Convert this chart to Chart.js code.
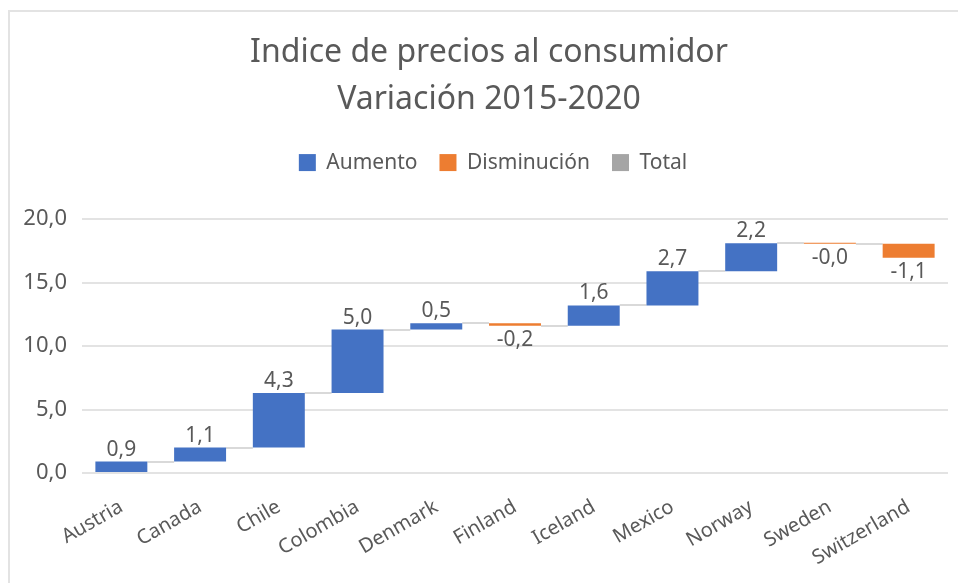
<!DOCTYPE html>
<html>
<head>
<meta charset="utf-8">
<script src="https://cdn.jsdelivr.net/npm/chart.js@4.4.1/dist/chart.umd.min.js"></script>
<style>
  html, body { margin: 0; padding: 0; background: #fff; }
  #wrap { position: relative; width: 958px; height: 583px; overflow: hidden; }
  #frame { position: absolute; left: 8px; top: 10px; width: 970px; height: 600px; border: 2px solid #e3e3e3; }
  canvas { position: absolute; left: 0; top: 0; }
</style>
</head>
<body>
<div id="wrap">
  <div id="frame"></div>
  <canvas id="chart" width="958" height="583"></canvas>
</div>
<script>
// ── Data ──
const categories = ["Austria", "Canada", "Chile", "Colombia", "Denmark", "Finland", "Iceland", "Mexico", "Norway", "Sweden", "Switzerland"];
const changes    = [0.9, 1.1, 4.3, 5.0, 0.5, -0.2, 1.6, 2.7, 2.2, -0.04, -1.1];
const yTicks     = [0, 5, 10, 15, 20];
const titleLines = ["Indice de precios al consumidor", "Variación 2015-2020"];
const seriesNames = ["Aumento", "Disminución", "Total"];

// running totals -> floating bars
const starts = [], ends = [];
let run = 0;
changes.forEach(v => { starts.push(run); run += v; ends.push(run); });

const upBars    = changes.map((v, i) => v >= 0 ? [starts[i], ends[i]] : null);
const downBars  = changes.map((v, i) => v < 0 ? [starts[i], ends[i]] : null);
const totalBars = changes.map(() => null);

const fmt = v => v.toFixed(1).replace(".", ",");
const TXT = "#595959";
const FONT = "'Noto Sans', sans-serif";
const BAR_PCT = 0.66;

// ── Plugins ──
const legendSpacer = {
  id: "legendSpacer",
  beforeInit(chart) {
    const fit = chart.legend.fit;
    chart.legend.fit = function () { fit.call(this); this.height += 36; };
  },
  // title + legend sit centred on the outer frame, a bit right of the canvas centre
  afterLayout(chart) {
    chart.titleBlock.left += 10;
    chart.titleBlock.right += 10;
    chart.legend.left += 14;
    chart.legend.right += 14;
  }
};

const connectors = {
  id: "connectors",
  beforeDatasetsDraw(chart) {
    const { ctx, scales: { x, y } } = chart;
    const half = x.width / categories.length * BAR_PCT / 2;
    ctx.save();
    ctx.strokeStyle = "#d9d9d9";
    ctx.lineWidth = 2;
    for (let i = 0; i < categories.length - 1; i++) {
      const py = Math.round(y.getPixelForValue(ends[i]));
      ctx.beginPath();
      ctx.moveTo(x.getPixelForValue(i) + half, py);
      ctx.lineTo(x.getPixelForValue(i + 1) - half, py);
      ctx.stroke();
    }
    ctx.restore();
  }
};

const valueLabels = {
  id: "valueLabels",
  afterDatasetsDraw(chart) {
    const { ctx, scales: { x, y } } = chart;
    ctx.save();
    ctx.fillStyle = TXT;
    ctx.font = "21px " + FONT;
    ctx.textAlign = "center";
    changes.forEach((v, i) => {
      const px = x.getPixelForValue(i);
      if (v >= 0) {
        ctx.textBaseline = "alphabetic";
        ctx.fillText(fmt(v), px, y.getPixelForValue(ends[i]) - 6);
      } else {
        ctx.textBaseline = "top";
        ctx.fillText(fmt(v), px, y.getPixelForValue(ends[i]) + 4);
      }
    });
    ctx.restore();
  }
};

// ── Chart ──
new Chart(document.getElementById("chart"), {
  type: "bar",
  data: {
    labels: categories,
    datasets: [
      { label: seriesNames[0], data: upBars,    backgroundColor: "#4472C4", borderWidth: 0, minBarLength: 1 },
      { label: seriesNames[1], data: downBars,  backgroundColor: "#ED7D31", borderWidth: 0, minBarLength: 1 },
      { label: seriesNames[2], data: totalBars, backgroundColor: "#A5A5A5", borderWidth: 0 }
    ]
  },
  options: {
    responsive: false,
    animation: false,
    barPercentage: BAR_PCT,
    categoryPercentage: 1,
    layout: { padding: { left: 10, right: 10, top: 8, bottom: 0 } },
    plugins: {
      title: {
        display: true,
        text: titleLines,
        color: TXT,
        font: { family: FONT, size: 32, weight: "normal", lineHeight: 1.47 },
        padding: { top: 21, bottom: 7 }
      },
      legend: {
        display: true,
        position: "top",
        labels: {
          color: TXT,
          font: { family: FONT, size: 21 },
          boxWidth: 17,
          boxHeight: 17,
          padding: 22
        }
      },
      tooltip: { enabled: false }
    },
    scales: {
      x: {
        stacked: true,
        grid: { display: false },
        border: { display: false },
        ticks: {
          color: TXT,
          font: { family: FONT, size: 20 },
          minRotation: 30,
          maxRotation: 30,
          padding: 14
        },
        afterFit: s => { s.height = 110; }
      },
      y: {
        min: 0,
        max: 20,
        afterBuildTicks: s => { s.ticks = yTicks.map(v => ({ value: v })); },
        grid: { color: "#e3e3e3", lineWidth: 2, drawTicks: false },
        border: { display: false },
        ticks: {
          color: TXT,
          font: { family: FONT, size: 22 },
          padding: 15,
          callback: v => fmt(v)
        },
        afterFit: s => { s.width = 72; }
      }
    }
  },
  plugins: [legendSpacer, connectors, valueLabels]
});
</script>
</body>
</html>
